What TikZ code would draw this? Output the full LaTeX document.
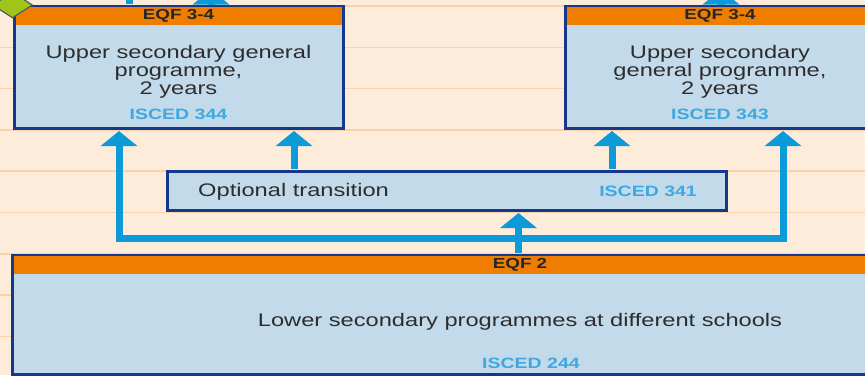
\documentclass[tikz,border=0pt]{standalone}
\usepackage{fontspec}
\setmainfont{Liberation Sans}[FakeStretch=1.3]
\usepackage{tikz}
\usetikzlibrary{arrows.meta,positioning,shapes.geometric}
\definecolor{mypeach}{RGB}{253,236,217}
\definecolor{mygrid}{RGB}{249,210,172}
\definecolor{myboxblue}{RGB}{195,218,234}
\definecolor{mynavy}{RGB}{22,56,140}
\definecolor{myorange}{RGB}{239,125,0}
\definecolor{myarrow}{RGB}{12,155,216}
\definecolor{myisced}{RGB}{62,168,224}
\definecolor{mytext}{RGB}{45,45,45}
\definecolor{mygreen}{RGB}{160,196,24}
\definecolor{mygreenrim}{RGB}{70,96,96}
\tikzstyle{prog}=[draw=mynavy,fill=myboxblue,line width=3pt,rectangle,inner sep=0pt]
\tikzstyle{eqfbar}=[fill=myorange,rectangle,inner sep=0pt,anchor=north,text=black!85,font=\fontsize{14.5}{16}\selectfont\bfseries]
\tikzstyle{progtext}=[inner sep=0pt,align=center,text=mytext,font=\fontsize{18.2}{17.9}\selectfont]
\tikzstyle{isced}=[inner sep=0pt,anchor=base,text=myisced,font=\fontsize{15}{16}\selectfont\bfseries]
\tikzstyle{flow}=[draw=myarrow,line width=7pt,shorten <=1.5pt,shorten >=1.5pt,-{Triangle[width=36pt,length=15pt]}]
\tikzstyle{corner}=[diamond,draw=mygreenrim,fill=mygreen,line width=1.2pt,inner sep=0pt,minimum width=40pt,minimum height=26pt]

\begin{document}
\begin{tikzpicture}[x=1pt,y=-1pt,gridline/.style={draw=mygrid,line width=1.5pt}]
\useasboundingbox (0,0) rectangle (865,375);
\clip (0,0) rectangle (865,375);
\fill[mypeach] (0,0) rectangle (865,375);
\foreach \k in {0,...,8}
  \draw[gridline] (0,6+41.3*\k) -- (865,6+41.3*\k);

% upper secondary
\node [prog,minimum width=329pt,minimum height=121.5pt] (upL) at (178.5,67.25) {};
\node [eqfbar,minimum width=326pt,minimum height=18.7pt] (upLeqf) at ([yshift=-1.5pt]upL.north) {EQF 3-4};
\node [progtext,anchor=north] (upLtext) at (178.5,45.3) {Upper secondary general\\programme,\\2 years};
\node [isced] (upLisced) at (178.5,119.3) {ISCED 344};

\node [prog,minimum width=310pt,minimum height=121.5pt] (upR) at (720,67.25) {};
\node [eqfbar,minimum width=307pt,minimum height=18.7pt] (upReqf) at ([yshift=-1.5pt]upR.north) {EQF 3-4};
\node [progtext,anchor=north] (upRtext) at (720,45.3) {Upper secondary\\general programme,\\2 years};
\node [isced] (upRisced) at (720,119.3) {ISCED 343};

\node [corner] (gem) at (upL.north west) {};

% transition
\node [prog,minimum width=559.5pt,minimum height=38.3pt] (opt) at (446.75,190.85) {};
\node [progtext,anchor=base west] (opttext) at (198,196.7) {Optional transition};
\node [isced,anchor=base east] (optisced) at (697,196.7) {ISCED 341};

% lower secondary
\node [prog,minimum width=1016pt,minimum height=118.5pt] (low) at (520,314.75) {};
\node [eqfbar,minimum width=1013pt,minimum height=18pt] (loweqf) at ([yshift=-1.5pt]low.north) {EQF 2};
\node [progtext,anchor=base] (lowtext) at (520,326) {Lower secondary programmes at different schools};
\node [isced] (lowisced) at (531,368.3) {ISCED 244};

% connectors
\coordinate (split) at (518.5,238.5);
\coordinate (jl) at (119,238.5);
\coordinate (jr) at (783,238.5);
\coordinate (ol) at (294,0);
\coordinate (or) at (612,0);
\coordinate (tl1) at (129,-40);
\coordinate (tl2) at (211,-12);
\coordinate (tr) at (721,-12);
\draw [flow] (low.north -| split) -- (opt.south -| split);
\draw [flow] (split) -| (upL.south -| jl);
\draw [flow] (split) -| (upR.south -| jr);
\draw [flow] (opt.north -| ol) -- (upL.south -| ol);
\draw [flow] (opt.north -| or) -- (upR.south -| or);
\draw [flow] (upL.north -| tl1) -- (tl1);
\draw [flow] (upL.north -| tl2) -- (tl2);
\draw [flow] (upR.north -| tr) -- (tr);
\end{tikzpicture}
\end{document}
